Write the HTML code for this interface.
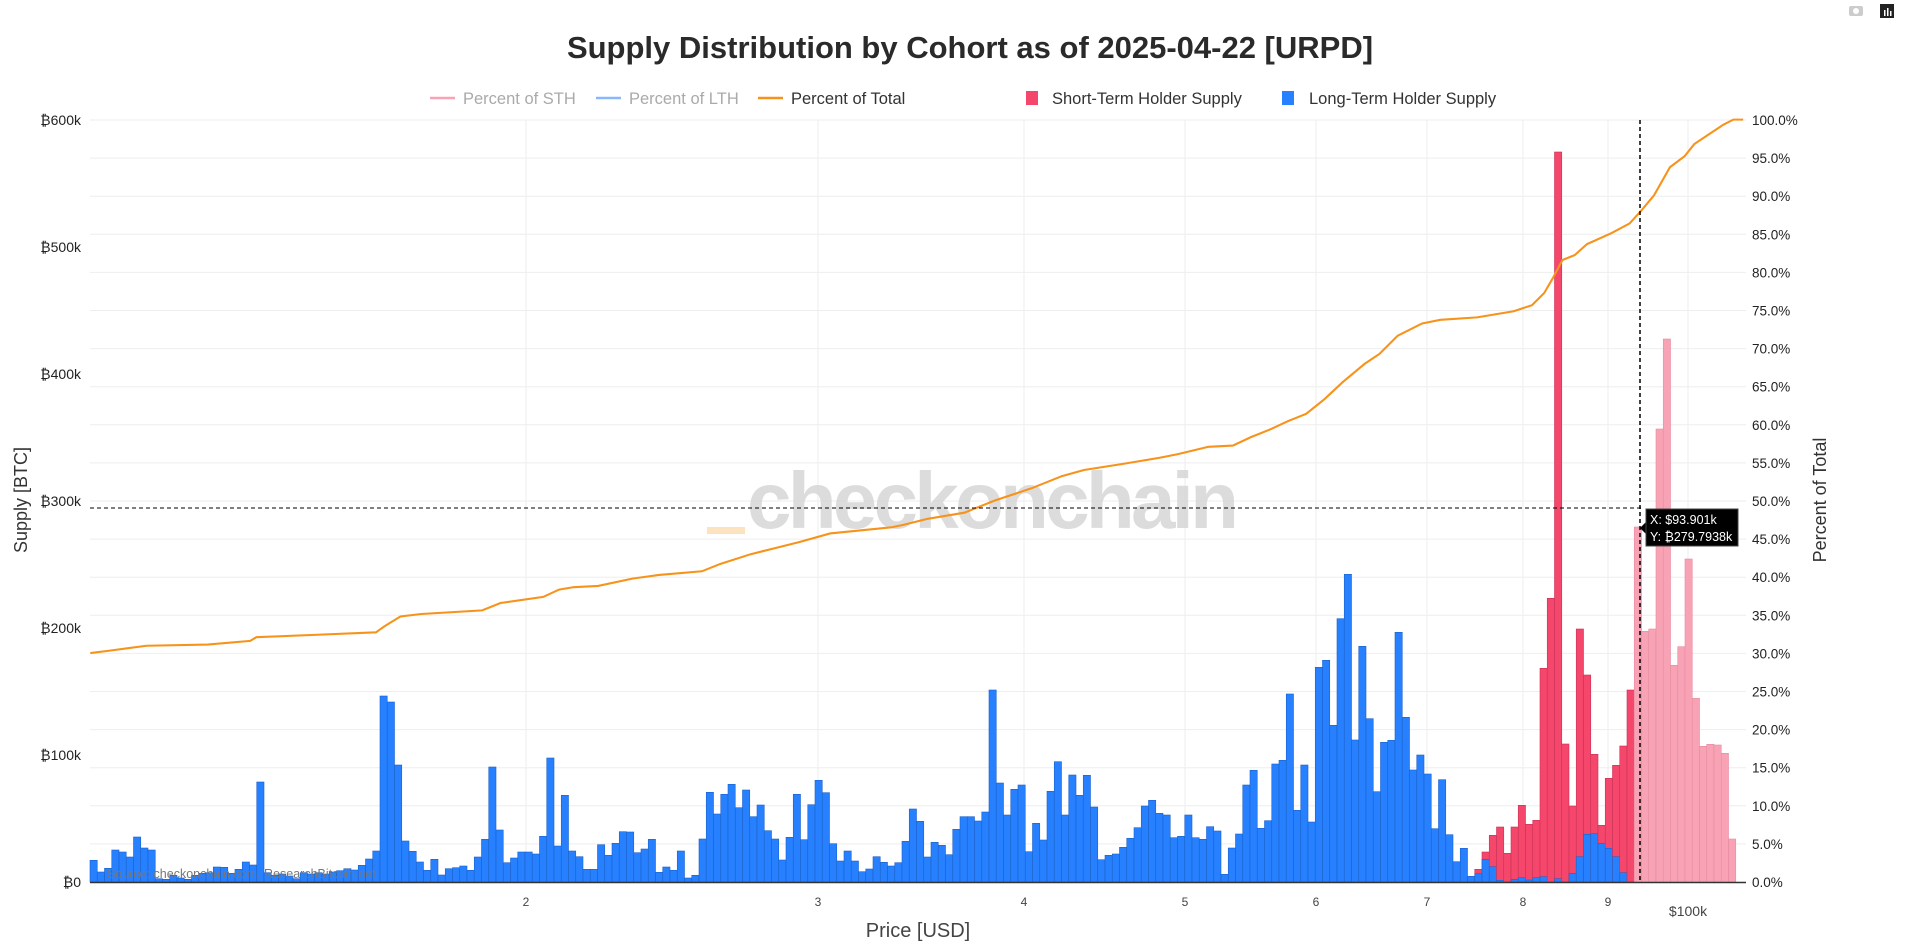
<!DOCTYPE html>
<html><head><meta charset="utf-8"><style>
html,body{margin:0;padding:0;background:#fff;}
svg{display:block;font-family:"Liberation Sans","DejaVu Sans",sans-serif;}
</style></head><body>
<svg id="s" width="1914" height="952" viewBox="0 0 1914 952" xmlns="http://www.w3.org/2000/svg">
<rect width="1914" height="952" fill="#fff"/>
<g id="grid" stroke="#eeeeee" stroke-width="1"></g>
<g id="bars"></g>
<text x="747" y="528" font-size="80" font-weight="bold" fill="#d0d0d0" fill-opacity="0.75" textLength="492">checkonchain</text>
<rect x="707" y="527" width="38" height="7" fill="#fde2bf"/>
<text x="107" y="878" font-size="12.5" fill="#777">Source: checkonchain.com, ResearchBitcoin.net</text>
<g transform="scale(1.2207)"><polyline id="ln" fill="none" stroke="#f7931a" stroke-width="1.7" points="74,535 90,533 120,529 170,528 205,525 210,522 260,520 308,518 315,513 328,505 345,503 395,500 410,494 445,489 458,483 470,481 490,480 518,474 540,471 575,468 590,462 615,454 635,449 655,444 680,437 730,432 740,430 760,425 790,420 815,410 845,400 870,390 888,385 920,380 950,375 965,372 990,366 1010,365 1025,358 1040,352 1055,345 1070,339 1085,327 1100,313 1118,298 1130,290 1145,275 1165,265 1180,262 1210,260 1240,255 1255,250 1265,240 1272,228 1280,213 1290,209 1300,200 1320,191 1335,183 1345,172 1355,160 1368,137 1380,128 1388,118 1400,110 1412,102 1420,98 1428,98"/></g>
<line x1="90" y1="882.5" x2="1746" y2="882.5" stroke="#333" stroke-width="1.5"/>
<line x1="90" y1="508" x2="1642" y2="508" stroke="#000" stroke-width="1" stroke-dasharray="4,3"/>
<line x1="1640" y1="120" x2="1640" y2="882" stroke="#000" stroke-width="1.5" stroke-dasharray="4,3"/>
<polygon points="1646,522 1640,528 1646,534" fill="#000"/>
<rect x="1646" y="509" width="92" height="37" fill="#000" stroke="#444"/>
<text x="1650" y="524" font-size="12.5" fill="#fff">X: $93.901k</text>
<text x="1650" y="541" font-size="12.5" fill="#fff">Y: ₿279.7938k</text>
<text x="970" y="58" font-size="31" font-weight="bold" fill="#2a2a2a" text-anchor="middle">Supply Distribution by Cohort as of 2025-04-22 [URPD]</text>
<g font-size="16.5">
<line x1="430" y1="98" x2="455" y2="98" stroke="#f8a3b5" stroke-width="2.5"/><text x="463" y="104" fill="#aaa">Percent of STH</text>
<line x1="596" y1="98" x2="621" y2="98" stroke="#8ab8ff" stroke-width="2.5"/><text x="629" y="104" fill="#aaa">Percent of LTH</text>
<line x1="758" y1="98" x2="783" y2="98" stroke="#f7931a" stroke-width="2.5"/><text x="791" y="104" fill="#333">Percent of Total</text>
<rect x="1026" y="91" width="12" height="14" fill="#f5476c"/><text x="1052" y="104" fill="#333">Short-Term Holder Supply</text>
<rect x="1282" y="91" width="12" height="14" fill="#2680ff"/><text x="1309" y="104" fill="#333">Long-Term Holder Supply</text>
</g>
<g font-size="14" fill="#222" text-anchor="end">
<text x="81" y="125">₿600k</text><text x="81" y="252">₿500k</text><text x="81" y="379">₿400k</text><text x="81" y="506">₿300k</text><text x="81" y="633">₿200k</text><text x="81" y="760">₿100k</text><text x="81" y="887">₿0</text>
</g>
<g id="rt" font-size="13.5" fill="#222"></g>
<g font-size="12" fill="#444" text-anchor="middle">
<text x="526" y="906">2</text><text x="818" y="906">3</text><text x="1024" y="906">4</text><text x="1185" y="906">5</text><text x="1316" y="906">6</text><text x="1427" y="906">7</text><text x="1523" y="906">8</text><text x="1608" y="906">9</text><text x="1688" y="916" font-size="14">$100k</text>
</g>
<text x="918" y="937" font-size="20" fill="#444" text-anchor="middle">Price [USD]</text>
<text transform="translate(27,500) rotate(-90)" font-size="18" fill="#333" text-anchor="middle">Supply [BTC]</text>
<text transform="translate(1826,500) rotate(-90)" font-size="18" fill="#333" text-anchor="middle">Percent of Total</text>
<rect x="1849" y="6" width="14" height="10" rx="2" fill="#ccc"/><circle cx="1856" cy="11" r="3" fill="#fff"/>
<rect x="1880" y="4" width="14" height="14" fill="#222"/><rect x="1884" y="10" width="1.5" height="6" fill="#fff"/><rect x="1887" y="8" width="1.5" height="8" fill="#fff"/><rect x="1890" y="11" width="1.5" height="5" fill="#fff"/>
</svg>
<script>
var NS="http://www.w3.org/2000/svg";
function el(t,a,p){var e=document.createElementNS(NS,t);for(var k in a)e.setAttribute(k,a[k]);p.appendChild(e);return e;}
var g=document.getElementById('grid');
for(var i=0;i<=20;i++){var y=120+i*38.1;el('line',{x1:90,x2:1746,y1:y,y2:y},g);}
[526,818,1024,1185,1316,1427,1523,1608,1688].forEach(function(x){el('line',{x1:x,x2:x,y1:120,y2:882},g);});
var rt=document.getElementById('rt');
for(var i=0;i<=20;i++){var t=el('text',{x:1752,y:120+i*38.1+5},rt);t.textContent=(100-i*5).toFixed(1)+'%';}
var blue=[21.7,10,13.7,32,30,25,45,34,32,3.3,2.7,6.7,4,2.7,6.7,8.7,9.3,15,14.7,8.7,12.7,20,17,100,9.3,6.7,8,6,3.3,9.3,8,9.3,8,10,11.3,13.3,12,16.7,23,31,186,180,117,41,30.7,20,11.7,22.7,7,13.3,14.3,16,11.7,25,42.7,115,52,
19.3,24,30,30,28,45.7,124,36,86.7,31,25.3,12.7,12.7,37.3,26.7,38.7,50.3,50,29.3,33,42.7,9.7,15,11.7,31,4,6.7,43,89.7,68,87.7,97.7,74.3,92,65.3,77,51.3,43,22,44.7,87.7,42.3,77.3,101.7,89.3,38.3,21,31,21,10.3,13,25.3,19.7,16,19.3,40.7,73,60.7,25,
39.7,36.7,27.3,52.7,65.3,65.3,61,70,192,99,67,92.7,97,30.3,58.7,42,90.7,120.3,67,107,86.7,106.7,75,22.3,26.7,28,34.7,43.7,54.3,76,81.7,68.7,67,44.3,45.7,67,44.3,42.7,55.3,51,7.7,34,48,97,111.7,53.7,61.3,118,121.7,188,71.7,117,60,214.7,221.7,156.7,263.3,307.7,142,
235.7,163.3,90.3,139.7,141.7,249.7,164.7,112,127,108,53.3,102.3,47.3,20.3,33.7,5.7,
8.3,22.7,15.3,1.7,0,2.7,4.3,2,4.3,5.3,0,3.3,0,8.7,25.3,47.7,48.3,38.7,33.7,25.3,9.3,0];
var red=[12.7,30,46.7,55,28.7,55,76.7,57.7,61.7,213.7,283.7,730,138,76,253,207,127.7,56.7,103.7,116.7,136,192];
var pink=[355,250.7,253,453,543,216.7,235.3,323,183.7,135.7,137.7,137,128.7,43];
var bg=document.getElementById('bars'),W=7.25,B=882;
for(var i=0;i<227;i++){
 var x=90+i*W;
 if(i>=213){var h=pink[i-213];el('rect',{x:x,y:B-h,width:W,height:h,fill:'#f8a3b5',stroke:'#e88aa0','stroke-width':0.6},bg);continue;}
 if(i>=191){var tot=red[i-191];el('rect',{x:x,y:B-tot,width:W,height:tot,fill:'#f5476c',stroke:'#c93356','stroke-width':0.6},bg);}
 var h=blue[i];if(h>0)el('rect',{x:x,y:B-h,width:W,height:h,fill:'#2680ff',stroke:'#1d63c8','stroke-width':0.6},bg);
}
</script>
</body></html>
